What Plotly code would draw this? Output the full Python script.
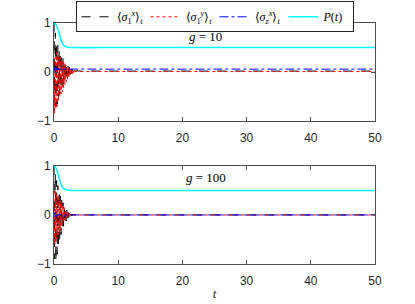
import plotly.graph_objects as go

# time grid for the transient region, then sparse points to 50
t_early = [round(0.1 * i, 1) for i in range(41)]
t_late = [5, 10, 20, 30, 40, 50]
t = t_early + t_late

# g = 10
sx1_g10 = [1.0, -0.6, 0.8, -0.7, 0.6, -0.65, 0.55, -0.5, 0.45, -0.45,
           0.4, -0.35, 0.35, -0.3, 0.28, -0.25, 0.22, -0.2, 0.18, -0.15,
           0.15, -0.12, 0.12, -0.08, 0.1, -0.05, 0.08, -0.03, 0.06, -0.01,
           0.05, 0.0, 0.04, 0.01, 0.03, 0.02, 0.03, 0.02, 0.02, 0.02,
           0.02, 0.02, 0.02, 0.02, 0.02, 0.02, 0.02]
sy1_g10 = [0.0, -0.85, 0.3, -0.75, 0.4, -0.7, 0.35, -0.6, 0.3, -0.5,
           0.3, -0.45, 0.25, -0.4, 0.2, -0.32, 0.18, -0.25, 0.15, -0.2,
           0.12, -0.15, 0.1, -0.12, 0.08, -0.08, 0.06, -0.05, 0.05, -0.03,
           0.04, -0.01, 0.03, 0.0, 0.02, 0.01, 0.02, 0.01, 0.01, 0.01,
           0.01, 0.01, 0.01, 0.01, 0.01, 0.01, 0.01]
szx_g10 = [0.0, 0.1, 0.02, 0.09, 0.03, 0.08, 0.04, 0.08, 0.05, 0.07,
           0.05, 0.07, 0.06, 0.07, 0.06, 0.065, 0.06, 0.06, 0.06, 0.06,
           0.06, 0.06, 0.06, 0.06, 0.06, 0.06, 0.06, 0.06, 0.06, 0.06,
           0.06, 0.06, 0.06, 0.06, 0.06, 0.06, 0.06, 0.06, 0.06, 0.06,
           0.06, 0.06, 0.06, 0.06, 0.06, 0.06, 0.06]

# g = 100
sx1_g100 = [1.0, -0.9, 0.85, -0.95, 0.7, -0.8, 0.6, -0.65, 0.5, -0.5,
            0.4, -0.4, 0.3, -0.3, 0.25, -0.25, 0.2, -0.18, 0.15, -0.12,
            0.1, -0.08, 0.07, -0.05, 0.05, -0.03, 0.03, -0.02, 0.02, -0.01,
            0.01, 0.0, 0.0, 0.0, 0.0, 0.0, 0.0, 0.0, 0.0, 0.0,
            0.0, 0.0, 0.0, 0.0, 0.0, 0.0, 0.0]
sy1_g100 = [0.0, -0.6, 0.5, -0.55, 0.45, -0.5, 0.4, -0.4, 0.35, -0.35,
            0.3, -0.3, 0.25, -0.2, 0.2, -0.15, 0.15, -0.1, 0.1, -0.08,
            0.07, -0.05, 0.05, -0.03, 0.03, -0.02, 0.02, -0.01, 0.01, 0.0,
            0.0, 0.0, 0.0, 0.0, 0.0, 0.0, 0.0, 0.0, 0.0, 0.0,
            0.0, 0.0, 0.0, 0.0, 0.0, 0.0, 0.0]
szx_g100 = [0.0, 0.05, -0.04, 0.04, -0.03, 0.03, -0.02, 0.02, -0.01, 0.01,
            0.0, 0.01, 0.0, 0.0, 0.0, 0.0, 0.0, 0.0, 0.0, 0.0,
            0.0, 0.0, 0.0, 0.0, 0.0, 0.0, 0.0, 0.0, 0.0, 0.0,
            0.0, 0.0, 0.0, 0.0, 0.0, 0.0, 0.0, 0.0, 0.0, 0.0,
            0.0, 0.0, 0.0, 0.0, 0.0, 0.0, 0.0]

# P(t)
tP = [0, 0.3, 0.6, 0.9, 1.2, 1.5, 1.8, 2.2, 3.0, 10, 20, 30, 40, 50]
P_g10 = [1.0, 0.97, 0.88, 0.74, 0.62, 0.55, 0.52, 0.505, 0.5, 0.5, 0.5, 0.5, 0.5, 0.5]
P_g100 = [1.0, 0.96, 0.85, 0.71, 0.6, 0.54, 0.515, 0.503, 0.5, 0.5, 0.5, 0.5, 0.5, 0.5]

names = ["⟨<i>σ</i><sub>1</sub><sup><i>x</i></sup>⟩<sub><i>t</i></sub>",
         "⟨<i>σ</i><sub>1</sub><sup><i>y</i></sup>⟩<sub><i>t</i></sub>",
         "⟨<i>σ</i><sub><i>z</i></sub><sup><i>x</i></sup>⟩<sub><i>t</i></sub>",
         "<i>P</i>(<i>t</i>)"]
x_ticks = [0, 10, 20, 30, 40, 50]
y_ticks = [-1, 0, 1]

fig = go.Figure()
panels = [("y", sx1_g10, sy1_g10, szx_g10, P_g10, True),
          ("y2", sx1_g100, sy1_g100, szx_g100, P_g100, False)]
for ax, sx, sy, sz, P, show in panels:
    xa = "x" if ax == "y" else "x2"
    fig.add_trace(go.Scatter(x=t, y=sx, mode="lines", name=names[0], showlegend=show,
                             line=dict(color="black", width=1, dash="dash"), xaxis=xa, yaxis=ax))
    fig.add_trace(go.Scatter(x=t, y=sy, mode="lines", name=names[1], showlegend=show,
                             line=dict(color="red", width=1, dash="dot"), xaxis=xa, yaxis=ax))
    fig.add_trace(go.Scatter(x=t, y=sz, mode="lines", name=names[2], showlegend=show,
                             line=dict(color="blue", width=1, dash="dashdot"), xaxis=xa, yaxis=ax))
    fig.add_trace(go.Scatter(x=tP, y=P, mode="lines", name=names[3], showlegend=show,
                             line=dict(color="cyan", width=1.6, shape="spline"), xaxis=xa, yaxis=ax))

axcol = "#4d4d4d"
common_x = dict(range=[0, 50], tickvals=x_ticks, ticks="inside", ticklen=4, tickcolor=axcol,
                showline=True, linecolor=axcol, mirror="ticks", showgrid=False, zeroline=False,
                ticklabelstandoff=6,
                tickfont=dict(family="Liberation Sans, Arial", size=12, color="#262626"))
common_y = dict(range=[-1, 1], tickvals=y_ticks, ticks="inside", ticklen=4, tickcolor=axcol,
                showline=True, linecolor=axcol, mirror="ticks", showgrid=False, zeroline=False,
                tickfont=dict(family="Liberation Sans, Arial", size=12, color="#262626"))

fig.update_layout(
    width=415, height=304,
    margin=dict(l=54, r=40, t=23, b=40, autoexpand=False),
    paper_bgcolor="white", plot_bgcolor="white",
    xaxis=dict(common_x, domain=[0, 1], anchor="y"),
    yaxis=dict(common_y, domain=[0.593, 1], anchor="x"),
    xaxis2=dict(common_x, domain=[0, 1], anchor="y2",
                title=dict(text="<i>t</i>", font=dict(family="Liberation Serif", size=13, color="#262626"),
                           standoff=1)),
    yaxis2=dict(common_y, domain=[0, 0.407], anchor="x2"),
    showlegend=True,
    legend=dict(orientation="h", x=0.5, xanchor="center", y=1.09, yanchor="top",
                bgcolor="white", bordercolor="#262626", borderwidth=1,
                font=dict(family="Liberation Serif", size=12, color="black"),
                entrywidth=24, entrywidthmode="pixels", tracegroupgap=0),
    annotations=[
        dict(text="<i>g</i> = 10", x=0.473, y=0.945, xref="paper", yref="paper", showarrow=False,
             yanchor="middle", font=dict(family="Liberation Serif", size=13, color="black")),
        dict(text="<i>g</i> = 100", x=0.473, y=0.36, xref="paper", yref="paper", showarrow=False,
             yanchor="middle", font=dict(family="Liberation Serif", size=13, color="black")),
    ],
)

fig.write_html("out.html", config={"displayModeBar": False},
               post_script="document.body.style.margin='0';")
